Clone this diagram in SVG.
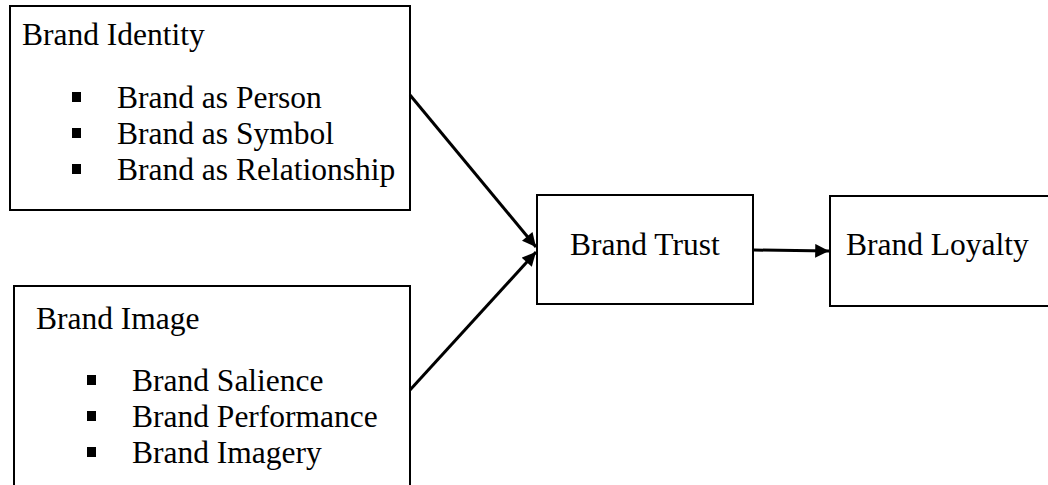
<svg xmlns="http://www.w3.org/2000/svg" width="1048" height="485" viewBox="0 0 1048 485">
  <style>
    .box { fill: #fff; stroke: #000; stroke-width: 2; }
    .lbl { font-family: "Liberation Serif", "Times New Roman", serif; font-size: 31.5px; fill: #000; }
    .bul { fill: #000; }
    .conn { stroke: #000; stroke-width: 3; fill: none; }
  </style>
  <defs>
    <marker id="arrow" viewBox="0 0 10 10" refX="10" refY="5" markerWidth="5" markerHeight="4.6" orient="auto" markerUnits="strokeWidth">
      <path d="M0,0 L10,5 L0,10 z" fill="#000"/>
    </marker>
  </defs>
  <rect width="1048" height="485" fill="#fff"/>

  <g id="brand-identity">
    <rect class="box" x="10" y="6" width="400" height="204"/>
    <text class="lbl" x="22" y="45">Brand Identity</text>
    <rect class="bul" x="72" y="92" width="9" height="10"/>
    <text class="lbl" x="117" y="108">Brand as Person</text>
    <rect class="bul" x="72" y="128" width="9" height="10"/>
    <text class="lbl" x="117" y="144">Brand as Symbol</text>
    <rect class="bul" x="72" y="164" width="9" height="10"/>
    <text class="lbl" x="117" y="180">Brand as Relationship</text>
  </g>

  <g id="brand-image">
    <rect class="box" x="14" y="286" width="396" height="220"/>
    <text class="lbl" x="36" y="329">Brand Image</text>
    <rect class="bul" x="87" y="375" width="9" height="10"/>
    <text class="lbl" x="132" y="391">Brand Salience</text>
    <rect class="bul" x="87" y="411" width="9" height="10"/>
    <text class="lbl" x="132" y="427">Brand Performance</text>
    <rect class="bul" x="87" y="447" width="9" height="10"/>
    <text class="lbl" x="132" y="463">Brand Imagery</text>
  </g>

  <g id="brand-trust">
    <rect class="box" x="537" y="195" width="216" height="109"/>
    <text class="lbl" x="570" y="255">Brand Trust</text>
  </g>

  <g id="brand-loyalty">
    <rect class="box" x="830" y="196" width="230" height="110"/>
    <text class="lbl" x="846" y="255">Brand Loyalty</text>
  </g>

  <g id="connectors">
    <line class="conn" x1="410" y1="95" x2="536" y2="247" marker-end="url(#arrow)"/>
    <line class="conn" x1="410" y1="390" x2="536" y2="252" marker-end="url(#arrow)"/>
    <line class="conn" x1="754" y1="250" x2="829" y2="251" marker-end="url(#arrow)"/>
  </g>
</svg>
